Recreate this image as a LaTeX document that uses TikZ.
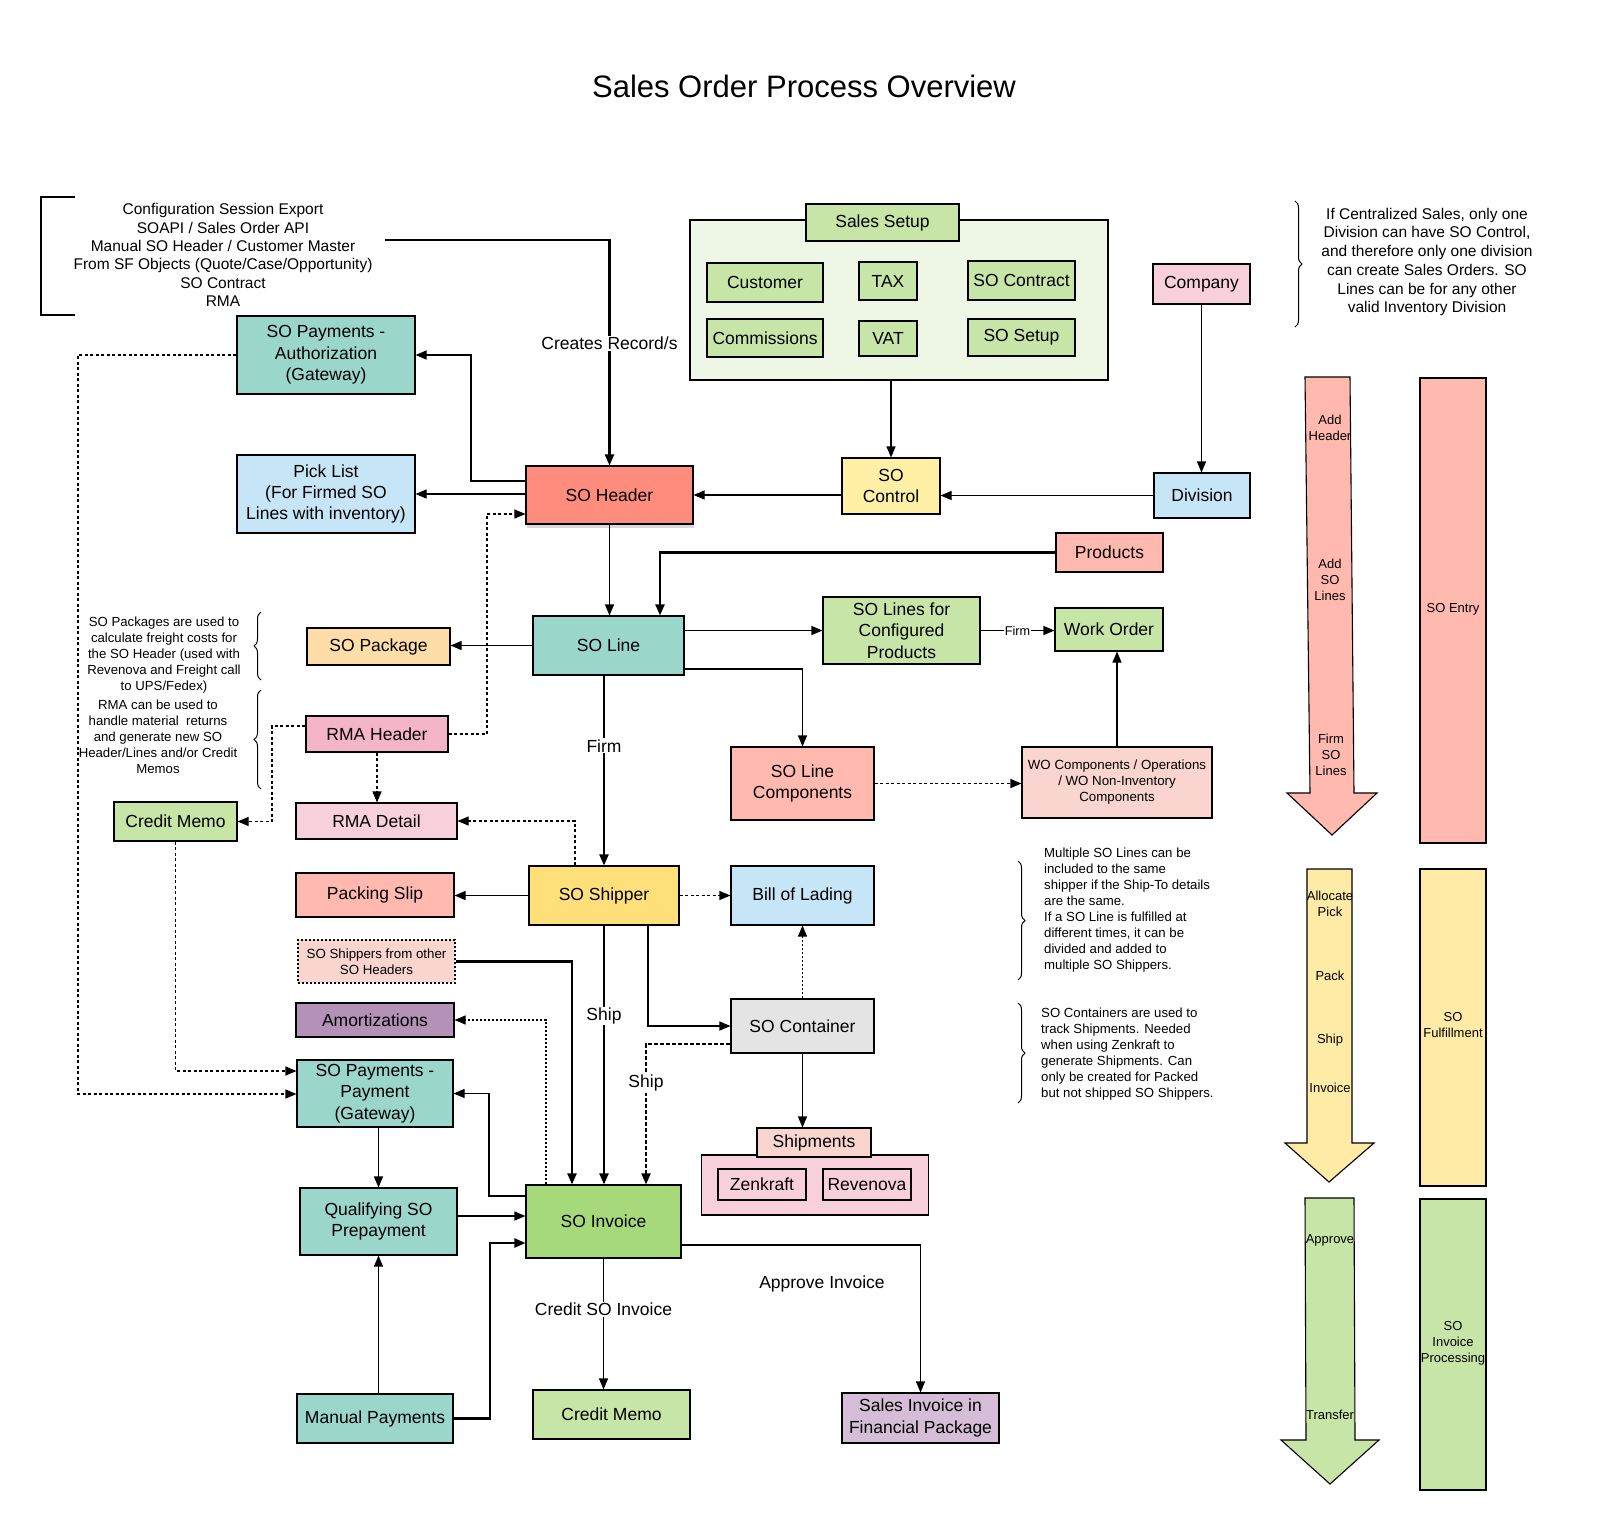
\documentclass[tikz,border=0pt]{standalone}
\usepackage{fontspec}
\setmainfont{Liberation Sans}
\usetikzlibrary{arrows.meta, decorations.pathreplacing, shadows}

\definecolor{sogreen}{HTML}{C6E5A7}
\definecolor{sosetupbg}{HTML}{EEF6E6}
\definecolor{soteal}{HTML}{9AD6CA}
\definecolor{sored}{HTML}{FF8C7C}
\definecolor{sosalmon}{HTML}{FFB9AE}
\definecolor{sopink}{HTML}{F8D0DB}
\definecolor{sorose}{HTML}{F4B5C8}
\definecolor{sopeach}{HTML}{FAD5CF}
\definecolor{soblue}{HTML}{C6E5F6}
\definecolor{sogold}{HTML}{FFDF7A}
\definecolor{solemon}{HTML}{FFF0A5}
\definecolor{soorange}{HTML}{FFDDA8}
\definecolor{socream}{HTML}{FFEBA6}
\definecolor{sopurple}{HTML}{B491B7}
\definecolor{solilac}{HTML}{D5BDD7}
\definecolor{sogray}{HTML}{E4E4E4}
\definecolor{solime}{HTML}{A6D97A}

\begin{document}
\begin{tikzpicture}[x=1pt, y=-1pt, >={Triangle[length=11pt, width=9pt]},
    box/.style={draw, line width=1.1pt, align=center, inner sep=1pt, font=\fontsize{17.5}{21.4}\selectfont},
    small/.style={font=\fontsize{13.3}{16}\selectfont},
    lbl/.style={fill=white, inner sep=1pt, font=\fontsize{17.5}{21}\selectfont},
    arr/.style={->, line width=1.1pt},
    thk/.style={->, line width=2.2pt},
    dsh/.style={dash pattern=on 3pt off 2.5pt},
    dot/.style={dash pattern=on 2pt off 2pt},
    brc/.style={decorate, decoration={brace, amplitude=7pt}, line width=1pt},
    note/.style={align=center, inner sep=0pt, font=\fontsize{13.2}{16}\selectfont},
    phase/.style={align=center, inner sep=0pt, font=\fontsize{13}{16}\selectfont},
  ]
  \useasboundingbox (0,0) rectangle (1597,1532);

  % Title
  \node (title) at (804,86) {\fontsize{31}{36}\selectfont Sales Order Process Overview};

  % Sources
  \draw[line width=1.1pt] (75,197) -- (41,197) -- (41,315) -- (75,315);
  \node[align=center, font=\fontsize{15.5}{18.4}\selectfont] (src) at (223,255) {Configuration Session Export\\SOAPI / Sales Order API\\Manual SO Header / Customer Master\\From SF Objects (Quote/Case/Opportunity)\\SO Contract\\RMA};
  \coordinate (srcout) at (385,240);

  % Sales Setup
  \node[box, fill=sosetupbg, minimum width=418, minimum height=160] (setup) at (899,300) {};
  \node[box, fill=sogreen, minimum width=153, minimum height=37] (setuphd) at (882.5,222.5) {Sales Setup};
  \node[box, fill=sogreen, minimum width=116, minimum height=39] (cust) at (765,282.5) {Customer};
  \node[box, fill=sogreen, minimum width=58, minimum height=38] (tax) at (888,281) {TAX};
  \node[box, fill=sogreen, minimum width=107, minimum height=39] (contract) at (1021.5,280.5) {SO Contract};
  \node[box, fill=sogreen, minimum width=116, minimum height=38] (comm) at (765,338) {Commissions};
  \node[box, fill=sogreen, minimum width=58, minimum height=35] (vat) at (888,338.5) {VAT};
  \node[box, fill=sogreen, minimum width=107, minimum height=37] (sosetup) at (1021.5,337.5) {SO Setup};
  \node[box, fill=sopink, minimum width=97, minimum height=40] (company) at (1201.5,284) {Company};

  % Header level
  \node[box, fill=soteal, minimum width=178, minimum height=78] (auth) at (326,355) {SO Payments -\\Authorization\\(Gateway)};
  \node[box, fill=soblue, minimum width=178, minimum height=78] (pick) at (326,494) {Pick List\\(For Firmed SO\\Lines with inventory)};
  \node[box, fill=sored, minimum width=167, minimum height=58,
    drop shadow={opacity=0.3, shadow xshift=1pt, shadow yshift=-4pt}] (hdr) at (609.5,495) {SO Header};
  \node[box, fill=solemon, minimum width=98, minimum height=56] (ctrl) at (891,486) {SO\\Control};
  \node[box, fill=soblue, minimum width=96, minimum height=45] (division) at (1202,495.5) {Division};
  \node[box, fill=sosalmon, minimum width=107, minimum height=39] (products) at (1109.5,552.5) {Products};

  % Line level
  \node[box, fill=soteal, minimum width=151, minimum height=59] (soline) at (608.5,645.5) {SO Line};
  \node[box, fill=soorange, minimum width=143, minimum height=37] (pkg) at (378.5,646.5) {SO Package};
  \node[box, fill=sogreen, minimum width=157, minimum height=67] (cfg) at (901.5,630.5) {SO Lines for\\Configured\\Products};
  \node[box, fill=sogreen, minimum width=108, minimum height=43] (wo) at (1109,629.5) {Work Order};
  \node[box, fill=sorose, minimum width=142, minimum height=36] (rmahdr) at (377,734) {RMA Header};
  \node[box, fill=sosalmon, minimum width=143, minimum height=73] (lcomp) at (802.5,783.5) {SO Line\\Components};
  \node[box, small, fill=sopeach, minimum width=190, minimum height=71] (wocomp) at (1117,782.5) {WO Components / Operations\\/ WO Non-Inventory\\Components};
  \node[box, fill=sogreen, minimum width=123, minimum height=39] (cmemo1) at (175.5,821.5) {Credit Memo};
  \node[box, fill=sopink, minimum width=161, minimum height=36] (rmadet) at (376.5,821) {RMA Detail};

  % Shipping level
  \node[box, fill=sosalmon, minimum width=158, minimum height=44] (slip) at (375,895) {Packing Slip};
  \node[box, fill=sogold, minimum width=150, minimum height=59] (shipper) at (604,895.5) {SO Shipper};
  \node[box, fill=soblue, minimum width=143, minimum height=59] (bol) at (802.5,895.5) {Bill of Lading};
  \node[box, small, dot, fill=sopeach, minimum width=157, minimum height=43] (other) at (376.5,961.5) {SO Shippers from other\\SO Headers};
  \node[box, fill=sopurple, minimum width=158, minimum height=34] (amort) at (375,1020) {Amortizations};
  \node[box, fill=sogray, minimum width=143, minimum height=54] (cont) at (802.5,1026) {SO Container};
  \node[box, fill=soteal, minimum width=156, minimum height=67] (pay) at (375,1093.5) {SO Payments -\\Payment\\(Gateway)};
  \node[box, fill=sopink, minimum width=227, minimum height=60] (shipbox) at (815,1185) {};
  \node[box, fill=sopeach, minimum width=114, minimum height=29] (shiphd) at (814,1142.5) {Shipments};
  \node[box, fill=sopink, minimum width=88, minimum height=31] (zen) at (762,1184.5) {Zenkraft};
  \node[box, fill=sopink, minimum width=88, minimum height=31] (rev) at (867,1184.5) {Revenova};

  % Invoice level
  \node[box, fill=soteal, minimum width=157, minimum height=67] (qual) at (378.5,1221.5) {Qualifying SO\\Prepayment};
  \node[box, fill=solime, minimum width=155, minimum height=73] (inv) at (603.5,1221.5) {SO Invoice};
  \node[box, fill=soteal, minimum width=156, minimum height=49] (manual) at (375,1418.5) {Manual Payments};
  \node[box, fill=sogreen, minimum width=157, minimum height=49] (cmemo2) at (611.5,1414.5) {Credit Memo};
  \node[box, fill=solilac, minimum width=157, minimum height=50] (finpkg) at (920.5,1418) {Sales Invoice in\\Financial Package};
  \node[lbl] (apprlbl) at (822,1284) {Approve Invoice};

  % SO Header links
  \draw[thk] (srcout) -| node[pos=.73, lbl] {Creates Record/s} (hdr.north);
  \draw[arr] (hdr.west |- 0,481) -- (471,481) |- (auth.east);
  \draw[arr] (hdr.west |- pick.east) -- (pick.east);
  \draw[arr, dsh] (rmahdr.east) -- (487,734) |- (hdr.west |- 0,514);
  \draw[arr] (ctrl.west |- hdr.east) -- (hdr.east);
  \draw[arr] (setup.south -| ctrl.north) -- (ctrl.north);
  \draw[arr] (company.south) -- (company.south |- division.north);
  \draw[arr] (division.west) -- (division.west -| ctrl.east);
  \draw[arr] (hdr.south) -- (hdr.south |- soline.north);

  % SO Line links
  \draw[thk] (products.west) -| (soline.north -| 660,0);
  \draw[arr] (soline.west) -- (soline.west -| pkg.east);
  \draw[arr] (soline.east |- cfg.west) -- (cfg.west);
  \draw[arr] (cfg.east) -- node[lbl, font=\fontsize{12.7}{14}\selectfont] {Firm} (cfg.east -| wo.west);
  \draw[arr] (soline.east |- 0,669) -| (lcomp.north);
  \draw[arr, dsh] (lcomp.east) -- (lcomp.east -| wocomp.west);
  \draw[arr] (wocomp.north) -- (wocomp.north |- wo.south);
  \draw[thk] (soline.south -| shipper.north) -- node[pos=.37, lbl] {Firm} (shipper.north);

  % RMA and payments
  \draw[arr, dsh] (shipper.north -| 575,0) |- (rmadet.east);
  \draw[arr, dsh] (rmahdr.south) -- (rmahdr.south |- rmadet.north);
  \draw[arr, dsh] (rmahdr.west |- 0,726) -- (272,726) |- (cmemo1.east);
  \draw[arr, dsh] (cmemo1.south) |- (pay.west |- 0,1071);
  \draw[arr, dsh] (auth.west) -- (78,355) |- (pay.west |- 0,1094);

  % SO Shipper links
  \draw[arr] (shipper.west) -- (shipper.west -| slip.east);
  \draw[arr, dsh] (shipper.east) -- (bol.west);
  \draw[thk] (shipper.south) -- node[pos=.35, lbl] {Ship} (shipper.south |- inv.north);
  \draw[arr] (shipper.south -| 648,0) |- (cont.west);
  \draw[arr, dot] (cont.north) -- (bol.south);
  \draw[->, line width=1.8pt, dash pattern=on 4pt off 2pt] (cont.west |- 0,1044) -| node[pos=.64, lbl] {Ship} (inv.north -| 646,0);
  \draw[arr] (cont.south) -- (cont.south |- shiphd.north);
  \draw[thk] (other.east) -| (inv.north -| 572,0);
  \draw[arr, dot] (inv.north -| 546,0) |- (amort.east);

  % SO Invoice links
  \draw[arr] (inv.west |- 0,1196) -- (489,1196) |- (pay.east);
  \draw[arr] (qual.north |- pay.south) -- (qual.north);
  \draw[arr] (qual.east |- 0,1216) -- (inv.west |- 0,1216);
  \draw[thk] (manual.east) -- (490,1418.5) |- (inv.west |- 0,1243);
  \draw[arr] (qual.south |- manual.north) -- (qual.south);
  \draw[arr] (inv.south) -- node[pos=.39, lbl] {Credit SO Invoice} (inv.south |- cmemo2.north);
  \draw[arr] (inv.east |- 0,1245) -| (finpkg.north);

  % Notes
  \draw[brc] (261,680) -- (261,612);
  \draw[brc] (261,789) -- (261,690);
  \draw[brc] (1295,201) -- (1295,327);
  \draw[brc] (1018,861) -- (1018,980);
  \draw[brc] (1018,1003) -- (1018,1103);
  \node[note] (pkgnote) at (164,655) {SO Packages are used to\\calculate freight costs for\\the SO Header (used with\\Revenova and Freight call\\to UPS/Fedex)};
  \node[note] (rmanote) at (158,737) {RMA can be used to\\handle material\ \ returns\\and generate new SO\\Header/Lines and/or Credit\\Memos};
  \node[note, align=left, anchor=west] (shipnote) at (1044,910.5) {Multiple SO Lines can be\\included to the same\\shipper if the Ship-To details\\are the same.\\If a SO Line is fulfilled at\\different times, it can be\\divided and added to\\multiple SO Shippers.};
  \node[note, align=left, anchor=west] (contnote) at (1041,1054) {SO Containers are used to\\track Shipments. Needed\\when using Zenkraft to\\generate Shipments. Can\\only be created for Packed\\but not shipped SO Shippers.};
  \node[note, font=\fontsize{15.5}{18.7}\selectfont] (divnote) at (1427,262) {If Centralized Sales, only one\\Division can have SO Control,\\and therefore only one division\\can create Sales Orders. SO\\Lines can be for any other\\valid Inventory Division};

  % Phases
  \filldraw[fill=sosalmon, line width=1.1pt] (1305,377) -- (1350,377) -- (1354,793) -- (1377,793) -- (1332,835) -- (1287,793) -- (1310,793) -- cycle;
  \filldraw[fill=socream, line width=1.1pt] (1307,869) -- (1352,869) -- (1352,1143) -- (1374,1143) -- (1329,1182) -- (1285,1143) -- (1307,1143) -- cycle;
  \filldraw[fill=sogreen, line width=1.1pt] (1305,1198) -- (1354,1198) -- (1355,1440) -- (1379,1440) -- (1330,1484) -- (1281,1440) -- (1306,1440) -- cycle;
  \filldraw[fill=sosalmon, line width=1.1pt] (1420,378) rectangle (1486,843);
  \filldraw[fill=socream, line width=1.1pt] (1420,869) rectangle (1486,1186);
  \filldraw[fill=sogreen, line width=1.1pt] (1420,1199) rectangle (1486,1490);
  \node[phase] (addhdr) at (1330,428) {Add\\Header};
  \node[phase] (addlines) at (1330,580) {Add\\SO\\Lines};
  \node[phase] (firmlines) at (1331,755) {Firm\\SO\\Lines};
  \node[phase] (alloc) at (1330,904) {Allocate\\Pick};
  \node[phase] (pack) at (1330,976) {Pack};
  \node[phase] (ship) at (1330,1040) {Ship};
  \node[phase] (invoice) at (1330,1088) {Invoice};
  \node[phase] (approve) at (1330,1240) {Approve};
  \node[phase] (transfer) at (1330,1415) {Transfer};
  \node[phase] (entry) at (1453,609) {SO Entry};
  \node[phase] (fulfil) at (1453,1025) {SO\\Fulfillment};
  \node[phase] (invproc) at (1453,1343) {SO\\Invoice\\Processing};
\end{tikzpicture}
\end{document}
